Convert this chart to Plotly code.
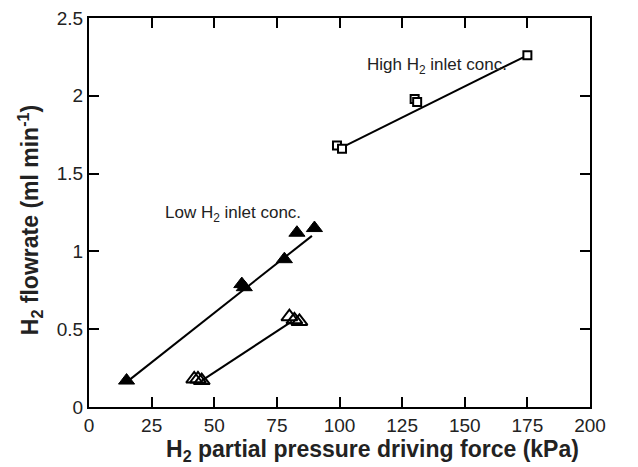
import plotly.graph_objects as go

# Low H2 inlet conc. (filled triangles)
low_fill_x = [15, 61, 62, 78, 83, 90]
low_fill_y = [0.17, 0.79, 0.77, 0.95, 1.12, 1.15]
low_fill_line_x = [15, 89]
low_fill_line_y = [0.16, 1.10]

# Low H2 inlet conc. (open triangles)
low_open_x = [42, 43.5, 45, 80, 82, 84]
low_open_y = [0.18, 0.18, 0.17, 0.58, 0.56, 0.55]
low_open_line_x = [45, 81]
low_open_line_y = [0.17, 0.55]

# High H2 inlet conc. (open squares)
high_x = [99, 101, 130, 131, 175]
high_y = [1.68, 1.66, 1.98, 1.96, 2.26]
high_line_x = [100, 175]
high_line_y = [1.66, 2.26]

x_ticks = [0, 25, 50, 75, 100, 125, 150, 175, 200]
y_ticks = [0, 0.5, 1, 1.5, 2, 2.5]
y_tick_labels = ["0", "0.5", "1", "1.5", "2", "2.5"]

fig = go.Figure()
line_style = dict(color="black", width=2)
for lx, ly in [(low_fill_line_x, low_fill_line_y), (low_open_line_x, low_open_line_y), (high_line_x, high_line_y)]:
    fig.add_trace(go.Scatter(x=lx, y=ly, mode="lines", line=line_style, showlegend=False, hoverinfo="skip"))

fig.add_trace(go.Scatter(x=low_fill_x, y=low_fill_y, mode="markers", showlegend=False,
                         marker=dict(symbol="triangle-up", size=14, color="black", line=dict(color="black", width=1))))
fig.add_trace(go.Scatter(x=low_open_x, y=low_open_y, mode="markers", showlegend=False,
                         marker=dict(symbol="triangle-up-open", size=14, color="black", line=dict(color="black", width=2))))
fig.add_trace(go.Scatter(x=high_x, y=high_y, mode="markers", showlegend=False,
                         marker=dict(symbol="square", size=8, color="white", line=dict(color="black", width=2))))

fig.add_annotation(x=139, y=2.19, text="High H<sub>2</sub> inlet conc.", showarrow=False,
                   font=dict(size=17, color="#222"))
fig.add_annotation(x=57.5, y=1.24, text="Low H<sub>2</sub> inlet conc.", showarrow=False,
                   font=dict(size=17, color="#222"))

# axis titles
fig.add_annotation(xref="paper", yref="paper", x=0.565, y=-0.113, xanchor="center", yanchor="middle",
                   text="<b>H<sub>2</sub> partial pressure driving force (kPa)</b>", showarrow=False,
                   font=dict(size=23, color="#222", family="Liberation Sans"))
fig.add_annotation(xref="paper", yref="paper", x=-0.118, y=0.48, xanchor="center", yanchor="middle",
                   textangle=-90, text="<b>H<sub>2</sub> flowrate (ml min<sup>-1</sup>)</b>", showarrow=False,
                   font=dict(size=23, color="#222", family="Liberation Sans"))

axis_common = dict(showgrid=False, zeroline=False, showline=True, linecolor="black", linewidth=2,
                   mirror="allticks", ticks="inside", ticklen=10, tickwidth=1.5, tickcolor="black",
                   tickfont=dict(size=19, color="#222", family="Liberation Sans"), automargin=False)

fig.update_xaxes(range=[0, 200], tickvals=x_ticks, **axis_common)
fig.update_yaxes(range=[0, 2.5], tickvals=y_ticks, ticktext=y_tick_labels, **axis_common)

fig.update_layout(width=638, height=467, margin=dict(l=89, r=48, t=18, b=60),
                  plot_bgcolor="white", paper_bgcolor="white",
                  font=dict(family="Liberation Sans"))

fig.write_html("out.html")
